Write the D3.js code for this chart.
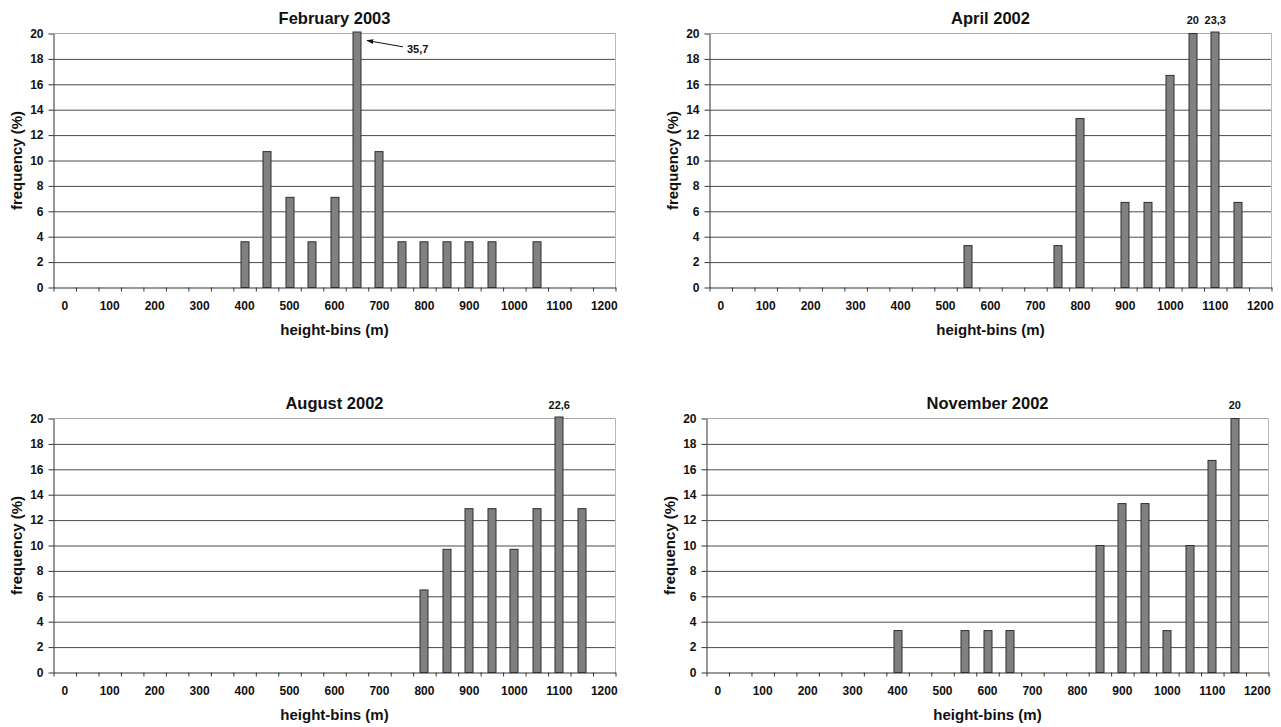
<!DOCTYPE html>
<html>
<head>
<meta charset="utf-8">
<script src="https://cdn.jsdelivr.net/npm/d3@7"></script>
<style>
  body { margin: 0; background: #fff; }
  text { font-family: "Liberation Sans", Arial, sans-serif; font-weight: bold; fill: #111; }
  .grid line { stroke: #4a4a4a; }
  .grid path { display: none; }
  .axis path, .axis line { stroke: #333; }
</style>
</head>
<body>
<div id="chart"></div>
<script>
// height bins (m)
const bins = [0,50,100,150,200,250,300,350,400,450,500,550,600,650,700,750,800,850,900,950,1000,1050,1100,1150,1200];
const xTickLabels = [0,100,200,300,400,500,600,700,800,900,1000,1100,1200];
const yTicks = [0,2,4,6,8,10,12,14,16,18,20];

const titles = ["February 2003", "April 2002", "August 2002", "November 2002"];

// frequency (%) per bin
const febValues = [0,0,0,0,0,0,0,0,3.6,10.7,7.1,3.6,7.1,35.7,10.7,3.6,3.6,3.6,3.6,3.6,0,3.6,0,0,0];
const aprValues = [0,0,0,0,0,0,0,0,0,0,0,3.3,0,0,0,3.3,13.3,0,6.7,6.7,16.7,20,23.3,6.7,0];
const augValues = [0,0,0,0,0,0,0,0,0,0,0,0,0,0,0,0,6.5,9.7,12.9,12.9,9.7,12.9,22.6,12.9,0];
const novValues = [0,0,0,0,0,0,0,0,3.3,0,0,3.3,3.3,3.3,0,0,0,10,13.3,13.3,3.3,10,16.7,20,0];

// value labels for off-scale / top bars
const febNotes = [{bin:650, text:"35,7", arrow:true}];
const aprNotes = [{bin:1050, text:"20"}, {bin:1100, text:"23,3"}];
const augNotes = [{bin:1100, text:"22,6"}];
const novNotes = [{bin:1150, text:"20"}];

const W = 562, H = 254;
const panels = [
  {title: titles[0], values: febValues, notes: febNotes, left: 53.5, top: 33.5},
  {title: titles[1], values: aprValues, notes: aprNotes, left: 709.5, top: 33.5},
  {title: titles[2], values: augValues, notes: augNotes, left: 53.5, top: 418.5},
  {title: titles[3], values: novValues, notes: novNotes, left: 706.5, top: 418.5}
];

const svg = d3.select('#chart').append('svg')
  .attr('width', 1281)
  .attr('height', 727);

svg.append('defs').append('marker')
  .attr('id', 'arrow')
  .attr('viewBox', '0 0 10 10')
  .attr('refX', 9).attr('refY', 5)
  .attr('markerWidth', 7).attr('markerHeight', 7)
  .attr('orient', 'auto')
  .append('path')
  .attr('d', 'M0,1.5 L10,5 L0,8.5 Z')
  .attr('fill', '#111');

panels.forEach(function(p){
  const g = svg.append('g').attr('transform', `translate(${p.left},${p.top})`);

  const x = d3.scaleBand()
    .domain(bins)
    .range([0, W])
    .paddingInner(0.6)
    .paddingOuter(0.3);

  // boundaries between bins (for the small tick marks)
  const xb = d3.scaleLinear().domain([0, bins.length]).range([0, W]);

  const y = d3.scaleLinear()
    .domain([0, 20])
    .range([H, 0])
    .clamp(true);

  // horizontal grid
  g.append('g')
    .attr('class', 'grid')
    .call(d3.axisLeft(y)
      .tickValues(yTicks.filter(d => d > 0 && d < 20))
      .tickSize(-W)
      .tickFormat(''));

  // plot frame (top + right, light)
  g.append('line')
    .attr('x1', 0).attr('x2', W)
    .attr('y1', y(20)).attr('y2', y(20))
    .attr('stroke', '#a8a8a8');
  g.append('line')
    .attr('x1', W).attr('x2', W)
    .attr('y1', y(20)).attr('y2', y(0))
    .attr('stroke', '#b8b8b8');

  // bars
  g.selectAll('rect.bar')
    .data(bins.map((b, i) => ({bin: b, v: p.values[i]})).filter(d => d.v > 0))
    .enter()
    .append('rect')
    .attr('class', 'bar')
    .attr('x', d => Math.round(x(d.bin)) + 0.5)
    .attr('y', d => y(d.v) - (d.v > 20 ? 1.5 : 0))
    .attr('width', Math.round(x.bandwidth()) - 1)
    .attr('height', d => y(0) - y(d.v) + (d.v > 20 ? 1.5 : 0))
    .attr('fill', '#808080')
    .attr('stroke', '#2e2e2e')
    .attr('stroke-width', 1);

  // y axis
  g.append('g')
    .attr('class', 'axis')
    .call(d3.axisLeft(y)
      .tickValues(yTicks)
      .tickSize(5)
      .tickSizeOuter(0)
      .tickPadding(5))
    .selectAll('text')
    .style('font-size', '12px');

  // x axis: tick marks at bin boundaries
  g.append('g')
    .attr('class', 'axis')
    .attr('transform', `translate(0,${H})`)
    .call(d3.axisBottom(xb)
      .tickValues(d3.range(bins.length + 1))
      .tickSize(4)
      .tickSizeOuter(0)
      .tickFormat(''));

  // x axis labels at every 100 m
  const xl = g.append('g')
    .attr('transform', `translate(0,${H})`)
    .call(d3.axisBottom(x)
      .tickValues(xTickLabels)
      .tickSize(0)
      .tickPadding(14));
  xl.select('.domain').remove();
  xl.selectAll('text').style('font-size', '12px');

  // title
  g.append('text')
    .attr('x', W / 2)
    .attr('y', -10)
    .attr('text-anchor', 'middle')
    .style('font-size', '16.5px')
    .text(p.title);

  // axis titles
  g.append('text')
    .attr('x', W / 2)
    .attr('y', H + 47)
    .attr('text-anchor', 'middle')
    .style('font-size', '15px')
    .text('height-bins (m)');

  g.append('text')
    .attr('transform', `translate(-32,${H / 2}) rotate(-90)`)
    .attr('text-anchor', 'middle')
    .style('font-size', '15px')
    .text('frequency (%)');

  // value notes
  p.notes.forEach(function(n){
    const cx = x(n.bin) + x.bandwidth() / 2;
    if (n.arrow) {
      g.append('line')
        .attr('x1', cx + 46).attr('y1', y(18.95))
        .attr('x2', cx + 10).attr('y2', y(19.45))
        .attr('stroke', '#111')
        .attr('stroke-width', 1)
        .attr('marker-end', 'url(#arrow)');
      g.append('text')
        .attr('x', cx + 50)
        .attr('y', y(18.45))
        .style('font-size', '11px')
        .text(n.text);
    } else {
      g.append('text')
        .attr('x', cx)
        .attr('y', -10)
        .attr('text-anchor', 'middle')
        .style('font-size', '11px')
        .text(n.text);
    }
  });
});
</script>
</body>
</html>
